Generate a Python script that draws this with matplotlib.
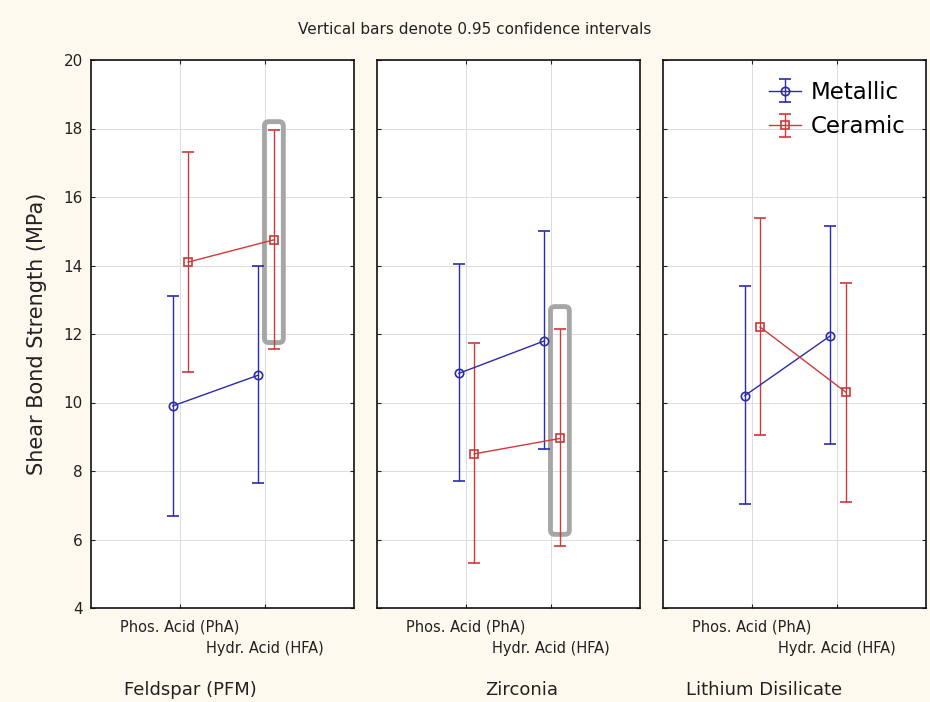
import numpy as np
import matplotlib.pyplot as plt
from matplotlib.patches import FancyBboxPatch

# 数据：三个材料面板，每个面板两种酸处理
panels = ['Feldspar (PFM)', 'Zirconia', 'Lithium Disilicate']
categories = ['Phos. Acid (PhA)', 'Hydr. Acid (HFA)']

metallic_mean = [[9.9, 10.8], [10.85, 11.8], [10.2, 11.95]]
metallic_low = [[6.7, 7.65], [7.7, 8.65], [7.05, 8.8]]
metallic_high = [[13.1, 14.0], [14.05, 15.0], [13.4, 15.15]]

ceramic_mean = [[14.1, 14.75], [8.5, 8.95], [12.2, 10.3]]
ceramic_low = [[10.9, 11.55], [5.3, 5.8], [9.05, 7.1]]
ceramic_high = [[17.3, 17.95], [11.75, 12.15], [15.4, 13.5]]

# 灰色高亮框（面板，类别，下沿，上沿）
highlights = [(0, 1, 11.75, 18.2), (1, 1, 6.15, 12.8)]

blue = '#2b2bab'
red = '#cc3a3a'
bg = '#fdf9ef'

fig = plt.figure(figsize=(9.3, 7.02), dpi=100, facecolor=bg)
lefts = [91, 377, 663]
label_x = [0.12, 0.65, 0.15]
cat_y = [-0.035, -0.074]

for p in range(3):
    ax = fig.add_axes([lefts[p] / 930, 1 - 608 / 702, 263 / 930, 548 / 702])
    x = np.arange(len(categories))
    xm = x - 0.08
    xc = x + 0.1

    m = np.array(metallic_mean[p])
    c = np.array(ceramic_mean[p])
    merr = [m - np.array(metallic_low[p]), np.array(metallic_high[p]) - m]
    cerr = [c - np.array(ceramic_low[p]), np.array(ceramic_high[p]) - c]

    ax.errorbar(xm, m, yerr=merr, color=blue, lw=1, marker='o', ms=6,
                mfc='none', mec=blue, mew=1.2, capsize=4, capthick=1,
                label='Metallic', zorder=3)
    ax.errorbar(xc, c, yerr=cerr, color=red, lw=1, marker='s', ms=6,
                mfc='none', mec=red, mew=1.2, capsize=4, capthick=1,
                label='Ceramic', zorder=3)

    for hp, hc, lo, hi in highlights:
        if hp == p:
            box = FancyBboxPatch((xc[hc] - 0.11, lo), 0.22, hi - lo,
                                 boxstyle='round,pad=0,rounding_size=0.05',
                                 fill=False, ec='#a6a6a6', lw=3.5, zorder=2,
                                 mutation_aspect=2.5)
            ax.add_patch(box)

    ax.set_xlim(-1.035, 2.035)
    ax.set_ylim(4, 20)
    ax.set_yticks(np.arange(4, 21, 2))
    ax.set_xticks(x)
    ax.set_xticklabels([])
    for i, cat in enumerate(categories):
        ax.text(x[i], cat_y[i], cat, transform=ax.get_xaxis_transform(),
                ha='center', va='center', fontsize=10.5, color='#222222')
    ax.grid(True, color='#dcdcdc', lw=0.7)
    ax.set_axisbelow(True)
    ax.tick_params(axis='both', direction='in', length=3, right=True,
                   top=True, labelsize=11, colors='#222222', pad=6)
    if p > 0:
        ax.set_yticklabels([])
    for s in ax.spines.values():
        s.set_linewidth(1.2)
        s.set_color('#111111')
    ax.text(label_x[p], -0.15, panels[p], transform=ax.get_xaxis_transform(),
            ha='center', va='center', fontsize=13, color='#222222')
    if p == 0:
        ax.set_ylabel('Shear Bond Strength (MPa)', fontsize=15, color='#222222',
                      labelpad=12)
    if p == 2:
        ax.legend(loc='upper right', frameon=False, fontsize=16.5,
                  handlelength=1.4, handletextpad=0.4, borderaxespad=0.5,
                  labelspacing=0.5)

fig.text(475 / 930, 1 - 30 / 702, 'Vertical bars denote 0.95 confidence intervals',
         ha='center', va='center', fontsize=11, color='#222222')

plt.savefig('out.png', dpi=100, facecolor=bg)
